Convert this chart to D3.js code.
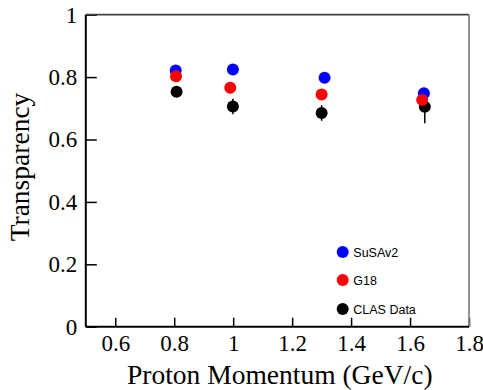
<!DOCTYPE html>
<html>
<head>
<meta charset="utf-8">
<script src="https://cdn.jsdelivr.net/npm/d3@7"></script>
<style>
  body { margin: 0; background: #fff; }
</style>
</head>
<body>
<div class="chart"></div>
<script>
var svgWidth = 483;
var svgHeight = 390;

// chart values
var seriesNames = ["SuSAv2", "G18", "CLAS Data"];
var seriesColors = ["#0000ff", "#ff0000", "#000000"];

var susaMomentum = [0.805, 0.999, 1.310, 1.647];
var susaTransparency = [0.821, 0.824, 0.798, 0.748];

var g18Momentum = [0.806, 0.990, 1.300, 1.641];
var g18Transparency = [0.803, 0.766, 0.744, 0.727];

var clasMomentum = [0.808, 0.999, 1.300, 1.650];
var clasTransparency = [0.753, 0.706, 0.685, 0.705];
var clasError = [0.015, 0.025, 0.025, 0.053];

var xTicks = [0.6, 0.8, 1.0, 1.2, 1.4, 1.6, 1.8];
var yTicks = [0, 0.2, 0.4, 0.6, 0.8, 1.0];

var serif = "'Liberation Serif', 'Times New Roman', serif";
var sans = "'Liberation Sans', Arial, sans-serif";

var margin = { top: 14.7, right: 14, bottom: 63.3, left: 85.8 };
var width = svgWidth - margin.left - margin.right;
var height = svgHeight - margin.top - margin.bottom;

var svg = d3.select(".chart")
  .append("svg")
  .attr("width", svgWidth)
  .attr("height", svgHeight);

var chartGroup = svg.append("g")
  .attr("transform", `translate(${margin.left}, ${margin.top})`);

var xScale = d3.scaleLinear().domain([0.5, 1.8]).range([0, width]);
var yScale = d3.scaleLinear().domain([0, 1]).range([height, 0]);

// axes, ticks pointing inwards
var bottomAxis = d3.axisBottom(xScale)
  .tickValues(xTicks)
  .tickSizeInner(-9)
  .tickSizeOuter(0)
  .tickPadding(8)
  .tickFormat(d3.format("~g"));

var leftAxis = d3.axisLeft(yScale)
  .tickValues(yTicks)
  .tickSizeInner(-11)
  .tickSizeOuter(0)
  .tickPadding(8.5)
  .tickFormat(d3.format("~g"));

var xAxisG = chartGroup.append("g")
  .attr("transform", `translate(0, ${height})`)
  .call(bottomAxis)
  .attr("font-family", serif)
  .attr("font-size", 23);
xAxisG.select(".domain").remove();
xAxisG.selectAll("line").attr("stroke", "#000").attr("stroke-width", 1.5);

var yAxisG = chartGroup.append("g")
  .call(leftAxis)
  .attr("font-family", serif)
  .attr("font-size", 23);
yAxisG.select(".domain").remove();
yAxisG.selectAll("line").attr("stroke", "#000").attr("stroke-width", 1.5);

// frame
chartGroup.append("line").attr("x1", 0).attr("x2", width).attr("y1", 0).attr("y2", 0)
  .attr("stroke", "#404040").attr("stroke-width", 1.7);
chartGroup.append("line").attr("x1", width).attr("x2", width).attr("y1", 0).attr("y2", height)
  .attr("stroke", "#808080").attr("stroke-width", 1.7);
chartGroup.append("line").attr("x1", 0).attr("x2", width).attr("y1", height).attr("y2", height)
  .attr("stroke", "#000").attr("stroke-width", 2);
chartGroup.append("line").attr("x1", 0).attr("x2", 0).attr("y1", 0).attr("y2", height)
  .attr("stroke", "#000").attr("stroke-width", 2);

// CLAS error bars
chartGroup.selectAll(".errbar")
  .data(clasMomentum)
  .enter()
  .append("line")
  .attr("class", "errbar")
  .attr("x1", (d, i) => xScale(d))
  .attr("x2", (d, i) => xScale(d))
  .attr("y1", (d, i) => yScale(clasTransparency[i] + clasError[i]))
  .attr("y2", (d, i) => yScale(clasTransparency[i] - clasError[i]))
  .attr("stroke", "#000")
  .attr("stroke-width", 1.5);

var r = 6;

function drawSeries(xs, ys, color) {
  chartGroup.append("g").selectAll("circle")
    .data(xs)
    .enter()
    .append("circle")
    .attr("cx", (d, i) => xScale(d))
    .attr("cy", (d, i) => yScale(ys[i]))
    .attr("r", r)
    .attr("fill", color);
}

drawSeries(susaMomentum, susaTransparency, seriesColors[0]);
drawSeries(clasMomentum, clasTransparency, seriesColors[2]);
drawSeries(g18Momentum, g18Transparency, seriesColors[1]);

// legend
var legendG = svg.append("g").attr("transform", "translate(342.7, 252)");
seriesNames.forEach(function(name, i) {
  var y = [0, 28, 57][i];
  legendG.append("circle").attr("cx", 0).attr("cy", y).attr("r", r).attr("fill", seriesColors[i]);
  legendG.append("text")
    .attr("x", 10.6).attr("y", y).attr("dy", "0.36em")
    .attr("font-family", sans)
    .attr("font-size", 12.5)
    .text(name);
});

// axis titles
svg.append("text")
  .attr("text-anchor", "middle")
  .attr("font-family", serif)
  .attr("font-size", 27.5)
  .attr("x", 279.8)
  .attr("y", 384.3)
  .text("Proton Momentum (GeV/c)");

svg.append("text")
  .attr("text-anchor", "middle")
  .attr("font-family", serif)
  .attr("font-size", 27.5)
  .attr("transform", "translate(28.5, 167) rotate(-90)")
  .text("Transparency");
</script>
</body>
</html>
